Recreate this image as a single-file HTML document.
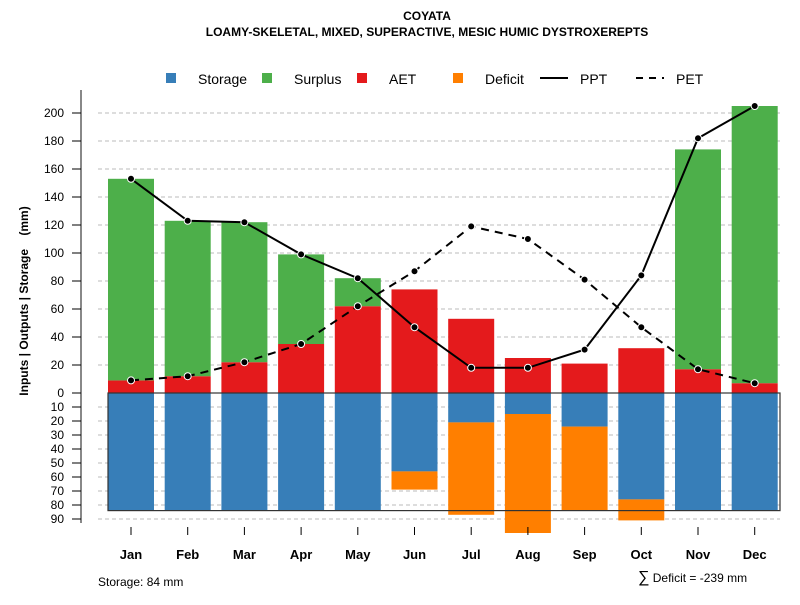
<!DOCTYPE html>
<html><head><meta charset="utf-8"><style>body{margin:0;background:#fff}svg{font-family:"Liberation Sans",Arial,sans-serif}</style></head>
<body>
<svg id="chart" width="800" height="600" viewBox="0 0 800 600" xmlns="http://www.w3.org/2000/svg">
<text x="427" y="20" text-anchor="middle" font-size="12" font-weight="bold">COYATA</text>
<text x="427" y="36" text-anchor="middle" font-size="12" font-weight="bold">LOAMY-SKELETAL, MIXED, SUPERACTIVE, MESIC HUMIC DYSTROXEREPTS</text>
<g font-size="14">
<rect x="166" y="73" width="10" height="10" fill="#377eb8"/><text x="198" y="84">Storage</text>
<rect x="262" y="73" width="10" height="10" fill="#4daf4a"/><text x="294" y="84">Surplus</text>
<rect x="357" y="73" width="10" height="10" fill="#e41a1c"/><text x="389" y="84">AET</text>
<rect x="453" y="73" width="10" height="10" fill="#ff7f00"/><text x="485" y="84">Deficit</text>
<line x1="540" y1="78" x2="568" y2="78" stroke="#000" stroke-width="2"/><text x="580" y="84">PPT</text>
<line x1="636" y1="78" x2="664" y2="78" stroke="#000" stroke-width="2" stroke-dasharray="7,6"/><text x="676" y="84">PET</text>
</g>
<text transform="translate(28,301) rotate(-90)" text-anchor="middle" font-size="12" font-weight="bold">Inputs | Outputs | Storage&#160;&#160;&#160;&#160;(mm)</text>
<g id="grid"></g><g id="bars"></g><g id="lines"></g><g id="axes"></g>
<text x="98" y="586" font-size="12">Storage: 84 mm</text>
<text x="638" y="582" font-size="12"><tspan font-size="16">∑</tspan> Deficit = -239 mm</text>
</svg>
<script>
const months=["Jan","Feb","Mar","Apr","May","Jun","Jul","Aug","Sep","Oct","Nov","Dec"];
const ppt=[153,123,122,99,82,47,18,18,31,84,182,205];
const pet=[9,12,22,35,62,87,119,110,81,47,17,7];
const aet=[9,12,22,35,62,74,53,25,21,32,17,7];
const surplus=[144,111,100,64,20,0,0,0,0,0,157,198];
const storage=[84,84,84,84,84,56,21,15,24,76,84,84];
const deficit=[0,0,0,0,0,13,66,85,60,15,0,0];
const upTicks=[0,20,40,60,80,100,120,140,160,180,200];
const downTicks=[10,20,30,40,50,60,70,80,90];
const maxStorage=84;
const NS="http://www.w3.org/2000/svg";
const y=v=>393-v*1.4;
const xc=i=>131+i*56.7;
const bw=46;
function mk(tag,attrs,parent){const e=document.createElementNS(NS,tag);for(const k in attrs)e.setAttribute(k,attrs[k]);document.getElementById(parent).appendChild(e);return e;}
upTicks.forEach(t=>{if(t>0){const g=mk('line',{x1:98,x2:780,y1:y(t),y2:y(t),stroke:'#bbb','stroke-dasharray':'4,3'},'grid');

}});
downTicks.forEach(t=>{const g=mk('line',{x1:98,x2:780,y1:y(-t),y2:y(-t),stroke:'#bbb','stroke-dasharray':'4,3'},'grid');

});
months.forEach((m,i)=>{const x=xc(i)-bw/2;
let r=mk('rect',{x:x,y:y(aet[i]),width:bw,height:aet[i]*1.4,fill:'#e41a1c'},'bars');


if(surplus[i]>0){r=mk('rect',{x:x,y:y(aet[i]+surplus[i]),width:bw,height:surplus[i]*1.4,fill:'#4daf4a'},'bars');

}
r=mk('rect',{x:x,y:y(0),width:bw,height:storage[i]*1.4,fill:'#377eb8'},'bars');


if(deficit[i]>0){r=mk('rect',{x:x,y:y(-storage[i]),width:bw,height:deficit[i]*1.4,fill:'#ff7f00'},'bars');

}
});
let box=mk('rect',{x:xc(0)-bw/2,y:y(0),width:780-(xc(0)-bw/2),height:maxStorage*1.4,fill:'none',stroke:'#333','stroke-width':1.2},'bars');


function series(vals,name,dash){const p=mk('polyline',{points:vals.map((v,i)=>xc(i)+','+y(v)).join(' '),fill:'none',stroke:'#000','stroke-width':2,'stroke-dasharray':dash},'lines');


vals.forEach((v,i)=>{const c=mk('circle',{cx:xc(i),cy:y(v),r:3.5,fill:'#000',stroke:'#fff','stroke-width':1},'lines');

});}
series(pet,'pet','8,6');series(ppt,'ppt','none');
let ax=mk('line',{x1:81,x2:81,y1:90,y2:523,stroke:'#888','stroke-width':2},'axes');


function tick(v,lab){mk('line',{x1:72,x2:81,y1:y(v),y2:y(v),stroke:'#000'},'axes');
const t=mk('text',{x:64,y:y(v)+4,'text-anchor':'end','font-size':12},'axes');t.textContent=lab;

}
upTicks.forEach(v=>tick(v,v));downTicks.forEach(v=>tick(-v,v));
months.forEach((m,i)=>{mk('line',{x1:xc(i),x2:xc(i),y1:527,y2:535,stroke:'#000'},'axes');
const t=mk('text',{x:xc(i),y:559,'text-anchor':'middle','font-size':13,'font-weight':'bold'},'axes');t.textContent=m;

});
</script>
</body></html>
